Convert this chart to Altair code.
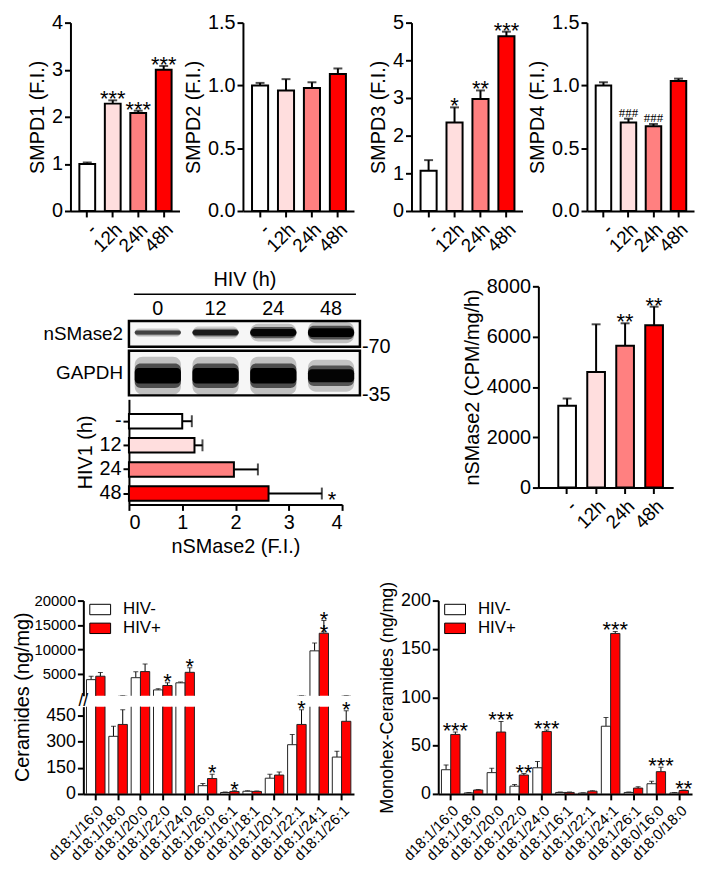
import altair as alt
import pandas as pd

FONT = "Liberation Sans"

# ---------------- Row 1: SMPD expression (F.I.) ----------------
conds = ["-", "12h", "24h", "48h"]
cond_colors = ["#FFFFFF", "#FFDEDE", "#FF8080", "#FF0000"]

smpd1_mean = [1.00, 2.28, 2.08, 3.00]
smpd1_err = [0.03, 0.07, 0.05, 0.08]
smpd1_sig = ["", "***", "***", "***"]

smpd2_mean = [1.00, 0.96, 0.98, 1.09]
smpd2_err = [0.02, 0.09, 0.045, 0.045]
smpd2_sig = ["", "", "", ""]

smpd3_mean = [1.07, 2.35, 2.97, 4.64]
smpd3_err = [0.28, 0.40, 0.23, 0.12]
smpd3_sig = ["", "*", "**", "***"]

smpd4_mean = [1.00, 0.705, 0.675, 1.036]
smpd4_err = [0.025, 0.03, 0.018, 0.018]
smpd4_sig = ["", "###", "###", ""]

# ---------------- Row 2: western blot + quantification ----------------
lanes = ["0", "12", "24", "48"]
nsmase2_band_thick = [0.20, 0.28, 0.40, 0.48]
nsmase2_band_dark = [0.55, 0.75, 0.95, 1.0]
gapdh_band_thick = [0.50, 0.50, 0.50, 0.42]
gapdh_band_dark = [1.0, 1.0, 1.0, 0.95]

hiv1_levels = ["-", "12", "24", "48"]
hiv1_mean = [1.0, 1.23, 1.97, 2.62]
hiv1_err = [0.18, 0.15, 0.45, 1.0]
hiv1_sig = ["", "", "", "*"]

act_mean = [3255, 4590, 5640, 6450]
act_err = [285, 1900, 890, 740]
act_sig = ["", "", "**", "**"]

# ---------------- Row 3: ceramides ----------------
groups = ["HIV-", "HIV+"]
group_colors = ["#FFFFFF", "#FF0000"]

cer_species = ["d18:1/16:0", "d18:1/18:0", "d18:1/20:0", "d18:1/22:0", "d18:1/24:0",
               "d18:1/26:0", "d18:1/16:1", "d18:1/18:1", "d18:1/20:1", "d18:1/22:1",
               "d18:1/24:1", "d18:1/26:1"]
cer_neg = [3800, 330, 4200, 1700, 3150, 47, 8, 15, 90, 282, 9700, 211]
cer_neg_err = [700, 58, 1200, 250, 150, 12, 3, 3, 22, 58, 1600, 34]
cer_pos = [4500, 398, 5450, 2600, 5300, 88, 14, 14, 108, 398, 13300, 416]
cer_pos_err = [750, 84, 1550, 550, 950, 24, 4, 3, 17, 84, 2600, 60]
cer_sig = ["", "", "", "*", "*", "*", "*", "", "", "*", "*\n*", "*"]

mhc_species = ["d18:1/16:0", "d18:1/18:0", "d18:1/20:0", "d18:1/22:0", "d18:1/24:0",
               "d18:1/16:1", "d18:1/22:1", "d18:1/24:1", "d18:1/26:1", "d18:0/16:0",
               "d18:0/18:0"]
mhc_neg = [25, 1.0, 22, 8, 27, 1.5, 0.8, 70, 1.5, 10.5, 1.0]
mhc_neg_err = [5, 0.5, 4.5, 1.7, 6.5, 0.4, 0.3, 9, 0.5, 2.5, 0.4]
mhc_pos = [61.5, 4, 64, 19.5, 64.5, 1.5, 2.8, 166, 6, 23, 3.5]
mhc_pos_err = [2.5, 0.5, 11, 1.5, 1.5, 0.4, 0.5, 2, 1.5, 4.5, 0.5]
mhc_sig = ["***", "", "***", "**", "***", "", "", "***", "", "***", "**"]


def spacer(w, h):
    return alt.Chart(pd.DataFrame({"s": [0]})).mark_point(opacity=0, size=1).encode(
        x=alt.value(0), y=alt.value(0)).properties(width=w, height=h)


def indep(c):
    return c.resolve_scale(fill="independent")


def time_panel(mean, err, sig, title, domain, ticks, fmt, width, height,
               pad_in=0.38, pad_out=0.33, align=0.53, sig_font=22, sig_family=FONT, sig_dy=11):
    df = pd.DataFrame({"cond": conds, "mean": mean,
                       "top": [m + e for m, e in zip(mean, err)], "sig": sig})
    x = alt.X("cond:N", sort=conds, title=None,
              scale=alt.Scale(paddingInner=pad_in, paddingOuter=pad_out, align=align),
              axis=alt.Axis(labelAngle=315, labelFontSize=19, labelPadding=3))
    ysc = alt.Scale(domain=domain, nice=False)
    yax = alt.Axis(values=ticks, format=fmt)
    base = alt.Chart(df).encode(x=x)
    bars = base.mark_bar(stroke="black", strokeWidth=2).encode(
        y=alt.Y("mean:Q", scale=ysc, axis=yax, title=title),
        fill=alt.Fill("cond:N", sort=conds,
                      scale=alt.Scale(domain=conds, range=cond_colors), legend=None))
    errs = base.mark_rule(color="black", strokeWidth=2).encode(
        y=alt.Y("mean:Q", scale=ysc, axis=yax, title=title), y2="top:Q")
    caps = base.mark_tick(color="black", thickness=2, size=9).encode(
        y=alt.Y("top:Q", scale=ysc, axis=yax, title=title))
    stars = base.mark_text(font=sig_family, fontSize=sig_font, baseline="bottom",
                           dy=sig_dy, color="black").encode(
        y=alt.Y("top:Q", scale=ysc, axis=yax, title=title), text="sig:N")
    return alt.layer(errs, caps, bars, stars).properties(width=width, height=height)


H1 = 190
p1 = time_panel(smpd1_mean, smpd1_err, smpd1_sig, "SMPD1 (F.I.)", [0, 4], [0, 1, 2, 3, 4], "d", 110, H1)
p2 = time_panel(smpd2_mean, smpd2_err, smpd2_sig, "SMPD2 (F.I.)", [0, 1.5], [0, 0.5, 1.0, 1.5], ".1f", 112, H1)
p3 = time_panel(smpd3_mean, smpd3_err, smpd3_sig, "SMPD3 (F.I.)", [0, 5], [0, 1, 2, 3, 4, 5], "d", 112, H1)
p4 = time_panel(smpd4_mean, smpd4_err, smpd4_sig, "SMPD4 (F.I.)", [0, 1.5], [0, 0.5, 1.0, 1.5], ".1f", 108, H1,
                sig_font=13, sig_family="Liberation Serif", sig_dy=1)

# ---------------- blot ----------------
BLOT_W = 233


def blot_panel(thick, dark, center, label, kda, height, top_axis):
    df = pd.DataFrame({
        "lane": lanes,
        "lo": [center - t * 0.35 for t in thick],
        "hi": [center + t * 0.35 for t in thick],
        "mid_lo": [center - t * 0.55 for t in thick],
        "mid_hi": [center + t * 0.55 for t in thick],
        "halo_lo": [center - t * 0.85 for t in thick],
        "halo_hi": [center + t * 0.85 for t in thick],
        "dark": dark,
        "mid": [d * 0.6 for d in dark],
        "halo": [d * 0.22 for d in dark],
    })
    if top_axis:
        xax = alt.Axis(orient="top", domain=False, ticks=False, labelAngle=0,
                       labelFontSize=20, labelPadding=3, titlePadding=9, titleFontSize=20)
        x = alt.X("lane:N", sort=lanes, title="HIV (h)",
                  scale=alt.Scale(paddingInner=0.2, paddingOuter=0.1), axis=xax)
    else:
        x = alt.X("lane:N", sort=lanes, title=None,
                  scale=alt.Scale(paddingInner=0.2, paddingOuter=0.1), axis=None)
    ysc = alt.Scale(domain=[0, 1])
    layers = []
    for lo, hi, op, rad in [("halo_lo", "halo_hi", "halo", 8), ("mid_lo", "mid_hi", "mid", 6),
                            ("lo", "hi", "dark", 4)]:
        layers.append(alt.Chart(df).mark_rect(color="black", cornerRadius=rad).encode(
            x=x, y=alt.Y(lo + ":Q", scale=ysc, axis=None), y2=hi + ":Q",
            opacity=alt.Opacity(op + ":Q", scale=None)))
    lab = alt.Chart(pd.DataFrame({"t": [label]})).mark_text(
        align="right", baseline="middle", fontSize=19, color="black").encode(
        x=alt.value(-6), y=alt.value(height / 2), text="t:N")
    kd = alt.Chart(pd.DataFrame({"t": [kda]})).mark_text(
        align="left", baseline="middle", fontSize=20, color="black").encode(
        x=alt.value(BLOT_W + 2), y=alt.value(height), text="t:N")
    layers += [lab, kd]
    if top_axis:
        rule = alt.Chart(pd.DataFrame({"t": [0]})).mark_rule(strokeWidth=1.5, color="black").encode(
            x=alt.value(5), x2=alt.value(BLOT_W - 4), y=alt.value(-27))
        layers.append(rule)
    return alt.layer(*layers).properties(
        width=BLOT_W, height=height,
        view=alt.ViewBackground(stroke="black", strokeWidth=2.5, fill="#F6F6F6"))


blot1 = blot_panel(nsmase2_band_thick, nsmase2_band_dark, 0.55, "nSMase2", "-70", 26, True)
blot2 = blot_panel(gapdh_band_thick, gapdh_band_dark, 0.44, "GAPDH", "-35", 45, False)

hdf = pd.DataFrame({"lvl": hiv1_levels, "mean": hiv1_mean,
                    "top": [m + e for m, e in zip(hiv1_mean, hiv1_err)], "sig": hiv1_sig,
                    "col": conds})
hy = alt.Y("lvl:N", sort=hiv1_levels, title="HIV1 (h)",
           scale=alt.Scale(paddingInner=0.4, paddingOuter=0.38, align=0.8))
hxs = alt.Scale(domain=[0, 4], nice=False)
hxa = alt.Axis(values=[0, 1, 2, 3, 4], format="d")
hbase = alt.Chart(hdf).encode(y=hy)
hbars = hbase.mark_bar(stroke="black", strokeWidth=2).encode(
    x=alt.X("mean:Q", scale=hxs, axis=hxa, title="nSMase2 (F.I.)"),
    fill=alt.Fill("col:N", sort=conds, scale=alt.Scale(domain=conds, range=cond_colors), legend=None))
herr = hbase.mark_rule(strokeWidth=2, color="black").encode(
    x=alt.X("mean:Q", scale=hxs, axis=hxa, title="nSMase2 (F.I.)"), x2="top:Q")
hcap = hbase.mark_tick(thickness=2, size=12, color="black").encode(
    x=alt.X("top:Q", scale=hxs, axis=hxa, title="nSMase2 (F.I.)"))
hstar = hbase.mark_text(fontSize=22, align="left", baseline="middle", dx=6, dy=7, color="black").encode(
    x=alt.X("top:Q", scale=hxs, axis=hxa, title="nSMase2 (F.I.)"), text="sig:N")
hbar = alt.layer(herr, hcap, hbars, hstar).properties(width=215, height=106)

activity = time_panel(act_mean, act_err, act_sig, "nSMase2 (CPM/mg/h)", [0, 8000],
                      [0, 2000, 4000, 6000, 8000], "d", 136, 203,
                      pad_in=0.39, pad_out=0.52, align=0.66)


# ---------------- ceramide charts ----------------
def grouped_df(cats, neg, neg_e, pos, pos_e, sig):
    rows = []
    for c, a, ae, b, be, s in zip(cats, neg, neg_e, pos, pos_e, sig):
        rows.append(dict(cat=c, grp="HIV-", mean=a, top=a + ae, sig=""))
        rows.append(dict(cat=c, grp="HIV+", mean=b, top=b + be, sig=s))
    return pd.DataFrame(rows)


def grouped_chart(df, cats, domain, ticks, width, height, ytitle, show_x, legend,
                  label_size, title_y=None, title_size=20, title_pad=4, star_filter=None,
                  pad_in=0.17, pad_out=0.14):
    xsc = alt.Scale(paddingInner=pad_in, paddingOuter=pad_out)
    if show_x:
        x = alt.X("cat:N", sort=cats, title=None, scale=xsc,
                  axis=alt.Axis(labelAngle=315, labelFontSize=15, labelPadding=3))
    else:
        x = alt.X("cat:N", sort=cats, title=None, scale=xsc, axis=None)
    xo = alt.XOffset("grp:N", sort=groups, scale=alt.Scale(paddingInner=0))
    ysc = alt.Scale(domain=domain, nice=False, zero=False)
    if title_y is not None:
        yax = alt.Axis(values=ticks, format="d", labelFontSize=label_size,
                       titleFontSize=title_size, titlePadding=title_pad, titleY=title_y)
    else:
        yax = alt.Axis(values=ticks, format="d", labelFontSize=label_size,
                       titleFontSize=title_size, titlePadding=title_pad)
    base = alt.Chart(df).encode(x=x, xOffset=xo)
    bars = base.mark_bar(stroke="#222222", strokeWidth=1, clip=True).encode(
        y=alt.Y("mean:Q", scale=ysc, axis=yax, title=ytitle),
        fill=alt.Fill("grp:N", sort=groups,
                      scale=alt.Scale(domain=groups, range=group_colors), legend=legend))
    errs = base.mark_rule(strokeWidth=1, color="black", clip=True).encode(
        y=alt.Y("mean:Q", scale=ysc, axis=yax, title=ytitle), y2="top:Q")
    caps = base.mark_tick(thickness=1, size=5, color="black", clip=True).encode(
        y=alt.Y("top:Q", scale=ysc, axis=yax, title=ytitle))
    stars = base.mark_text(fontSize=22, baseline="bottom", dy=11, lineBreak="\n",
                           lineHeight=14, color="black").encode(
        y=alt.Y("top:Q", scale=ysc, axis=yax, title=ytitle), text="sig:N")
    if star_filter is not None:
        stars = stars.transform_filter(star_filter)
    return alt.layer(errs, caps, bars, stars).properties(width=width, height=height)


leg = alt.Legend(orient="none", legendX=6, legendY=-2, title=None,
                 symbolType="M-1,-0.5H1V0.5H-1Z", symbolSize=441,
                 symbolStrokeColor="black", symbolStrokeWidth=1,
                 labelFontSize=17, labelFont=FONT, rowPadding=-3, labelOffset=12)

cer_df = grouped_df(cer_species, cer_neg, cer_neg_err, cer_pos, cer_pos_err, cer_sig)
cer_up = grouped_chart(cer_df, cer_species, [500, 20000], [5000, 10000, 15000, 20000], 273, 96,
                       "Ceramides (ng/mg)", False, leg, 15, title_y=97, title_pad=2,
                       star_filter=alt.datum.top > 500)
cer_lo_main = grouped_chart(cer_df, cer_species, [0, 500], [0, 150, 300, 450], 273, 88,
                            None, True, None, 18, star_filter=alt.datum.top <= 500)
brk = alt.Chart(pd.DataFrame({"t": ["//"]})).mark_text(
    fontSize=18, align="center", baseline="middle", color="black").encode(
    x=alt.value(0), y=alt.value(-6), text="t:N")
cer_lo = alt.layer(cer_lo_main, brk)

mhc_df = grouped_df(mhc_species, mhc_neg, mhc_neg_err, mhc_pos, mhc_pos_err, mhc_sig)
mono = grouped_chart(mhc_df, mhc_species, [0, 200], [0, 50, 100, 150, 200], 256, 195,
                     "Monohex-Ceramides (ng/mg)", True, leg, 18, title_size=18)

# ---------------- layout ----------------
row1 = indep(alt.hconcat(
    spacer(17, 1),
    indep(alt.hconcat(indep(alt.hconcat(p1, p2, spacing=2)),
                      indep(alt.hconcat(p3, p4, spacing=3)), spacing=13)),
    spacing=0))
left2 = indep(alt.vconcat(spacer(1, 31), blot1, blot2, hbar, spacing=4, bounds="flush"))
row2 = indep(alt.hconcat(spacer(32, 1), indep(alt.hconcat(left2, activity, spacing=70)), spacing=0))
cer = indep(alt.vconcat(cer_up, cer_lo, spacing=11, bounds="flush"))
row3 = indep(alt.hconcat(spacer(1, 1), indep(alt.hconcat(cer, mono, spacing=23)), spacing=0))

chart = indep(alt.vconcat(row1, spacer(1, 9), row2, spacer(1, 21), row3, spacing=0)).properties(
    padding={"left": 0, "top": 0, "right": 0, "bottom": 0}
).configure(font=FONT).configure_view(stroke="transparent").configure_axis(
    domainColor="black", domainWidth=2, tickColor="black", tickWidth=2, tickSize=6,
    labelColor="black", titleColor="black", labelFont=FONT, titleFont=FONT,
    labelFontSize=20, titleFontSize=20, titleFontWeight="normal", grid=False,
    labelPadding=2, titlePadding=4
).configure_text(font=FONT).configure_legend(labelFont=FONT)

chart.save("out.html", embed_options={"renderer": "svg", "actions": False})
